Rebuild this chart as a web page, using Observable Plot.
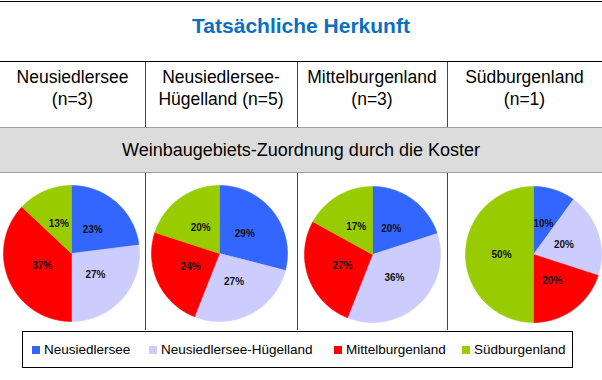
<!DOCTYPE html>
<html>
<head>
<meta charset="utf-8">
<script src="https://cdn.jsdelivr.net/npm/d3@7"></script>
<script src="https://cdn.jsdelivr.net/npm/@observablehq/plot@0.6"></script>
<style>
  html, body { margin: 0; padding: 0; background: #fff; }
  #root { position: relative; width: 602px; height: 380px; overflow: hidden; font-family: "Liberation Sans", Arial, sans-serif; color: #000; }
  .hline { position: absolute; height: 1px; }
  .vline { position: absolute; width: 1px; }
  .title { position: absolute; left: 0; width: 602px; top: 13.5px; text-align: center; font-weight: bold; font-size: 21px; color: #0A6FC2; line-height: 24px; }
  .head { position: absolute; top: 66px; text-align: center; font-size: 17.5px; line-height: 22px; white-space: nowrap; }
  .band { position: absolute; left: 0; width: 602px; top: 127px; height: 44px; background: #DCDCDC; border-top: 1px solid #A0A0A0; border-bottom: 1px solid #A0A0A0; text-align: center; font-size: 18px; line-height: 44px; }
  .pie { position: absolute; }
  .legend { position: absolute; left: 22px; top: 331px; width: 549px; height: 35px; border: 1px solid #000; font-size: 13.5px; }
  .sw { position: absolute; top: 14px; width: 8px; height: 8px; }
  .lt { position: absolute; top: 9px; line-height: 17px; white-space: nowrap; }
</style>
</head>
<body>
<div id="root"></div>
<script>
// ---- data ----
const title = "Tatsächliche Herkunft";
const subtitle = "Weinbaugebiets-Zuordnung durch die Koster";
const categories = ["Neusiedlersee", "Neusiedlersee-Hügelland", "Mittelburgenland", "Südburgenland"];
const colors = ["#3366FF", "#CCCCFF", "#FF0000", "#99CC00"];
const headerLine1 = ["Neusiedlersee", "Neusiedlersee-", "Mittelburgenland", "Südburgenland"];
const headerLine2 = ["(n=3)", "Hügelland (n=5)", "(n=3)", "(n=1)"];
const pieNeusiedlersee = [23, 27, 37, 13];
const pieHuegelland = [29, 27, 24, 20];
const pieMittelburgenland = [20, 36, 27, 17];
const pieSuedburgenland = [10, 20, 20, 50];
const pies = [pieNeusiedlersee, pieHuegelland, pieMittelburgenland, pieSuedburgenland];

// ---- layout ----
const root = document.getElementById("root");
const colEdges = [0, 145, 297, 447, 602];
const pieCenters = [[71, 253], [219, 253], [372, 254], [533, 254]];
const R = 68, BOX = 140;
const legendX = [9, 126, 311, 439];

function el(cls, css, html) {
  const d = document.createElement("div");
  d.className = cls;
  Object.assign(d.style, css);
  if (html != null) d.innerHTML = html;
  root.appendChild(d);
  return d;
}

el("hline", {left: "0px", width: "602px", top: "1px", background: "#000"});
el("title", {}, title);
el("hline", {left: "0px", width: "602px", top: "61px", background: "#000"});
for (let i = 0; i < 4; i++) {
  el("head", {left: colEdges[i] + "px", width: (colEdges[i + 1] - colEdges[i]) + "px"},
     headerLine1[i] + "<br>" + headerLine2[i]);
}
for (let i = 1; i < 4; i++) {
  el("vline", {left: colEdges[i] + "px", top: "62px", height: "65px", background: "#444"});
  el("vline", {left: colEdges[i] + "px", top: "173px", height: "157px", background: "#444"});
}
el("band", {}, subtitle);

// ---- pies ----
function slicePoints(values) {
  const total = d3.sum(values);
  const pts = [];
  const labels = [];
  let acc = 0;
  values.forEach((v, i) => {
    const a0 = acc / total * 2 * Math.PI;
    acc += v;
    const a1 = acc / total * 2 * Math.PI;
    const n = Math.max(2, Math.ceil((a1 - a0) / (Math.PI / 180)));
    pts.push({cat: categories[i], x: 0, y: 0});
    for (let k = 0; k <= n; k++) {
      const a = a0 + (a1 - a0) * k / n;
      pts.push({cat: categories[i], x: Math.sin(a), y: Math.cos(a)});
    }
    pts.push({cat: categories[i], x: 0, y: 0});
    const am = (a0 + a1) / 2;
    labels.push({x: 0.47 * Math.sin(am), y: 0.47 * Math.cos(am), text: v + "%"});
  });
  return {pts, labels};
}

pies.forEach((values, i) => {
  const {pts, labels} = slicePoints(values);
  const half = BOX / 2 / R;
  const chart = Plot.plot({
    width: BOX, height: BOX, margin: 0,
    x: {domain: [-half, half], axis: null},
    y: {domain: [-half, half], axis: null},
    color: {domain: categories, range: colors},
    style: {background: "transparent", overflow: "visible"},
    marks: [
      Plot.line(pts, {x: "x", y: "y", z: "cat", fill: "cat", stroke: "cat", strokeWidth: 0.6, curve: "linear"}),
      Plot.text(labels, {x: "x", y: "y", text: "text", fontSize: 10, fontWeight: "bold", fill: "#111", fontFamily: "Liberation Sans, Arial, sans-serif"})
    ]
  });
  const holder = el("pie", {left: (pieCenters[i][0] - BOX / 2) + "px", top: (pieCenters[i][1] - BOX / 2) + "px", width: BOX + "px", height: BOX + "px"});
  holder.appendChild(chart);
});

// ---- legend ----
const leg = el("legend", {});
categories.forEach((c, i) => {
  const s = document.createElement("div");
  s.className = "sw";
  s.style.left = legendX[i] + "px";
  s.style.background = colors[i];
  leg.appendChild(s);
  const t = document.createElement("div");
  t.className = "lt";
  t.style.left = (legendX[i] + 12) + "px";
  t.textContent = c;
  leg.appendChild(t);
});
</script>
</body>
</html>
